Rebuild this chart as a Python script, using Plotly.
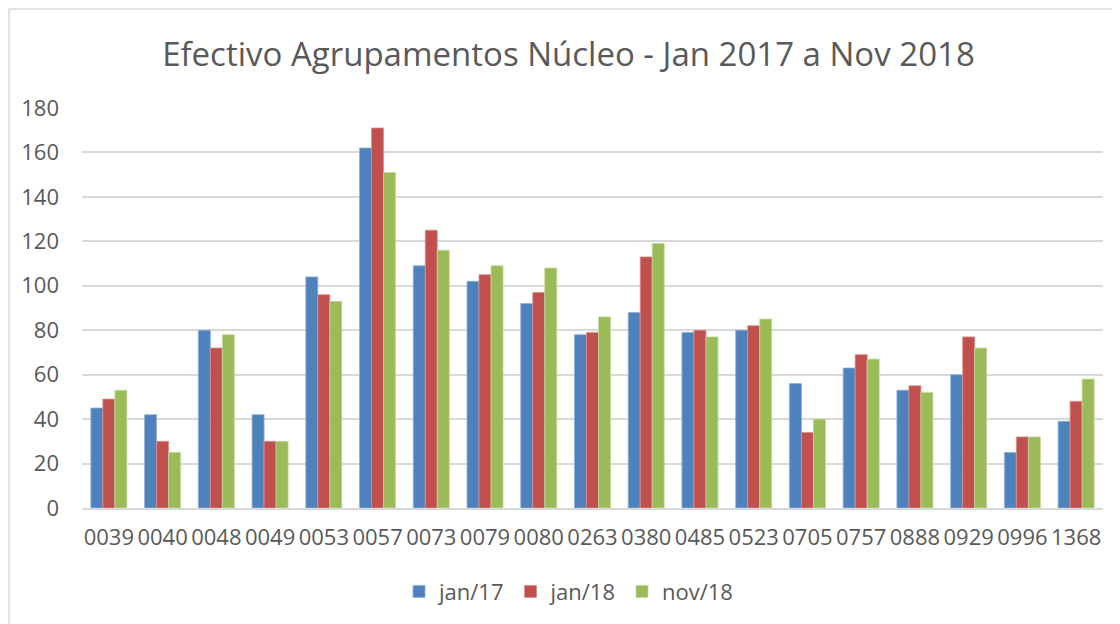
import plotly.graph_objects as go

# codes of the agrupamentos
categorias = ["0039", "0040", "0048", "0049", "0053", "0057", "0073", "0079", "0080", "0263",
              "0380", "0485", "0523", "0705", "0757", "0888", "0929", "0996", "1368"]

jan17 = [45, 42, 80, 42, 104, 162, 109, 102, 92, 78, 88, 79, 80, 56, 63, 53, 60, 25, 39]
jan18 = [49, 30, 72, 30, 96, 171, 125, 105, 97, 79, 113, 80, 82, 34, 69, 55, 77, 32, 48]
nov18 = [53, 25, 78, 30, 93, 151, 116, 109, 108, 86, 119, 77, 85, 40, 67, 52, 72, 32, 58]

series = [("jan/17", jan17, "#4F81BD", "#8fb0d8"),
          ("jan/18", jan18, "#C0504D", "#dc8e8c"),
          ("nov/18", nov18, "#9BBB59", "#c5d99d")]

fig = go.Figure()
for nome, valores, cor, borda in series:
    fig.add_trace(go.Bar(
        x=categorias, y=valores, name=nome,
        marker=dict(color=cor, line=dict(color=borda, width=0.8)),
    ))

texto = "#595959"
grelha = "#d9d9d9"

# page body adds 8px margin, so the figure is a bit smaller and shifted
fig.update_layout(
    width=1112, height=616,
    margin=dict(l=74, r=17, t=100, b=116),
    paper_bgcolor="white", plot_bgcolor="white",
    font=dict(family="Open Sans", size=22, color=texto),
    title=dict(text="Efectivo Agrupamentos Núcleo - Jan 2017 a Nov 2018",
               x=0.504, xanchor="center", y=0.925, yanchor="middle",
               font=dict(size=33, color=texto)),
    barmode="group", bargap=0.33, bargroupgap=0,
    legend=dict(orientation="h", x=0.4765, xanchor="center", y=-0.209, yanchor="middle",
                font=dict(size=22, color=texto), itemwidth=30, traceorder="normal"),
    xaxis=dict(showgrid=False, showline=True, linecolor=grelha, linewidth=1.5,
               ticks="outside", ticklen=9, tickcolor="white", tickfont=dict(size=22)),
    yaxis=dict(range=[0, 180], dtick=20, showgrid=True, gridcolor=grelha, gridwidth=1.5,
               zeroline=False, showline=False, ticklabelstandoff=22, tickfont=dict(size=22)),
    shapes=[
        dict(type="line", xref="paper", yref="paper", x0=-0.0715, x1=1.2, y0=1.2475, y1=1.2475,
             line=dict(color=grelha, width=1.5)),
        dict(type="line", xref="paper", yref="paper", x0=-0.0715, x1=-0.0715, y0=1.2475, y1=-0.4,
             line=dict(color=grelha, width=1.5)),
    ],
)

fig.write_html("out.html")
